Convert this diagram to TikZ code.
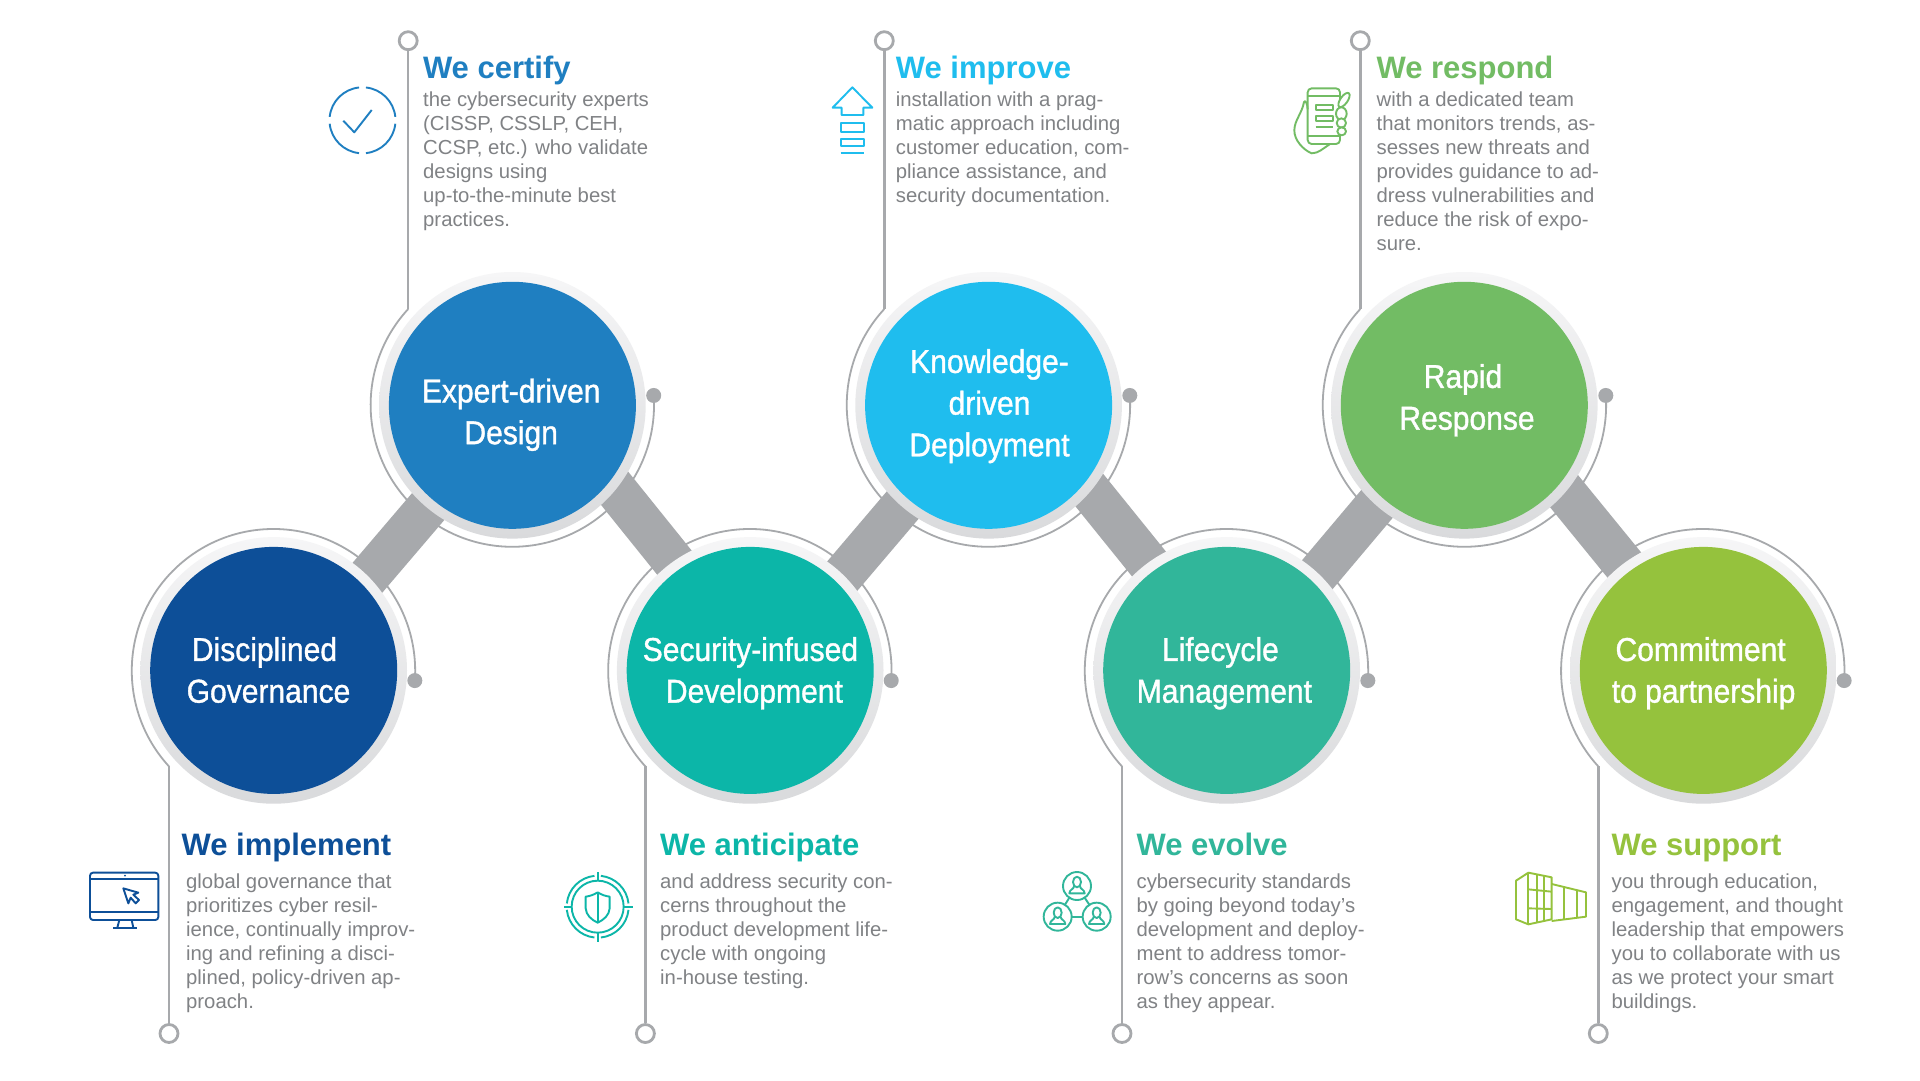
\documentclass[tikz,border=0pt]{standalone}
\usepackage{fontspec}
\setmainfont{Liberation Sans}
\newfontfamily\condfont[FakeStretch=0.91,FakeBold=1.1]{Liberation Sans}
\definecolor{cA}{HTML}{0D4F98}
\definecolor{cB}{HTML}{1F7FC1}
\definecolor{cC}{HTML}{0CB6A8}
\definecolor{cD}{HTML}{1FBDEE}
\definecolor{cE}{HTML}{31B69A}
\definecolor{cF}{HTML}{72BC64}
\definecolor{cG}{HTML}{95C23D}
\definecolor{railgray}{HTML}{A7A9AC}
\definecolor{bodygray}{HTML}{808285}
\definecolor{ringtop}{HTML}{F6F6F7}
\definecolor{ringbot}{HTML}{D9DADC}
\tikzset{
  x=1pt,y=1pt,
  railline/.style={draw=railgray,line width=2.5pt},
  arcline/.style={draw=railgray,line width=1.8pt},
  barline/.style={draw=railgray,line width=42pt},
  hollowend/.style={circle,draw=railgray,line width=2.8pt,fill=white,minimum size=18pt,inner sep=0pt},
  dotend/.style={circle,fill=railgray,minimum size=15pt,inner sep=0pt},
  ringnode/.style={circle,top color=ringtop,bottom color=ringbot,minimum size=266.6pt,inner sep=0pt},
  discnode/.style={circle,fill=#1,minimum size=247pt,inner sep=0pt},
  disclabel/.style={anchor=north,inner sep=0pt,align=center,text=white,font=\condfont\fontsize{33}{41.7}\selectfont},
  headnode/.style={anchor=base west,inner sep=0pt,text=#1,font=\fontsize{31}{36}\selectfont\bfseries},
  bodynode/.style={anchor=north west,inner sep=0pt,align=left,text=bodygray,font=\fontsize{20.3}{24.1}\selectfont},
  iconline/.style={draw=#1,line width=1.9pt,fill=none,line join=round},
}
\newcommand{\fs}{\rule{0pt}{16pt}}
\newcommand{\ds}{\rule{0pt}{26pt}}
\newcommand{\personmark}[3]{%
  \draw[iconline=#3] (#1,#2) circle[radius=42];
  \draw[iconline=#3] (#1,#2-12) ellipse[x radius=12,y radius=16];
  \draw[iconline=#3] (#1-9,#2+1) .. controls (#1-10,#2+10) and (#1-22,#2+10) .. (#1-23,#2+22) -- (#1+23,#2+22) .. controls (#1+22,#2+10) and (#1+10,#2+10) .. (#1+9,#2+1);
}
\begin{document}
\begin{tikzpicture}[yscale=-1]
\useasboundingbox (0,0) rectangle (1920,1080);
\fill[white] (0,0) rectangle (1920,1080);
% centres
\coordinate (C1) at (273.7,670.4);
\coordinate (C2) at (512.4,405.3);
\coordinate (C3) at (750.2,670.4);
\coordinate (C4) at (988.6,405.3);
\coordinate (C5) at (1226.7,670.4);
\coordinate (C6) at (1464.3,405.3);
\coordinate (C7) at (1703.3,670.4);
% end markers
\node[hollowend] (e1) at (169,1033.5) {};
\node[hollowend] (e2) at (408.2,40.7) {};
\node[hollowend] (e3) at (645.4,1033.5) {};
\node[hollowend] (e4) at (884.3,40.7) {};
\node[hollowend] (e5) at (1122,1033.5) {};
\node[hollowend] (e6) at (1360.3,40.7) {};
\node[hollowend] (e7) at (1598.3,1033.5) {};
\coordinate (j1) at ([shift={(-104.7,96)}]C1);
\coordinate (j2) at ([shift={(-104.2,-96.3)}]C2);
\coordinate (j3) at ([shift={(-104.8,96)}]C3);
\coordinate (j4) at ([shift={(-104.3,-96.3)}]C4);
\coordinate (j5) at ([shift={(-104.7,96)}]C5);
\coordinate (j6) at ([shift={(-104,-96.3)}]C6);
\coordinate (j7) at ([shift={(-105,96)}]C7);
% rails
\draw[railline] (e1) -- (j1);
\draw[railline] (e2) -- (j2);
\draw[railline] (e3) -- (j3);
\draw[railline] (e4) -- (j4);
\draw[railline] (e5) -- (j5);
\draw[railline] (e6) -- (j6);
\draw[railline] (e7) -- (j7);
\draw[arcline] (j1) arc[start angle=137.5,end angle=364,radius=141.7] node[dotend] (d1) {};
\draw[arcline] (j2) arc[start angle=222.7,end angle=-3.9,radius=141.7] node[dotend] (d2) {};
\draw[arcline] (j3) arc[start angle=137.5,end angle=364,radius=141.7] node[dotend] (d3) {};
\draw[arcline] (j4) arc[start angle=222.7,end angle=-3.9,radius=141.7] node[dotend] (d4) {};
\draw[arcline] (j5) arc[start angle=137.5,end angle=364,radius=141.7] node[dotend] (d5) {};
\draw[arcline] (j6) arc[start angle=222.7,end angle=-3.9,radius=141.7] node[dotend] (d6) {};
\draw[arcline] (j7) arc[start angle=137.5,end angle=364,radius=141.7] node[dotend] (d7) {};
% bars
\draw[barline] ([shift={(78.4,-74.7)}]C1) -- ([shift={(-69.5,84)}]C2);
\draw[barline] ([shift={(88.3,65.7)}]C2) -- ([shift={(-61.7,-90.3)}]C3);
\draw[barline] ([shift={(75.4,-74.7)}]C3) -- ([shift={(-72.5,84)}]C4);
\draw[barline] ([shift={(85.3,65.7)}]C4) -- ([shift={(-64.7,-90.3)}]C5);
\draw[barline] ([shift={(72.9,-74.7)}]C5) -- ([shift={(-75,84)}]C6);
\draw[barline] ([shift={(83.3,65.7)}]C6) -- ([shift={(-66.7,-90.3)}]C7);
% discs
\node[ringnode] (r1) at (C1) {}; \node[discnode=cA] (n1) at (C1) {};
\node[ringnode] (r2) at (C2) {}; \node[discnode=cB] (n2) at (C2) {};
\node[ringnode] (r3) at (C3) {}; \node[discnode=cC] (n3) at (C3) {};
\node[ringnode] (r4) at (C4) {}; \node[discnode=cD] (n4) at (C4) {};
\node[ringnode] (r5) at (C5) {}; \node[discnode=cE] (n5) at (C5) {};
\node[ringnode] (r6) at (C6) {}; \node[discnode=cF] (n6) at (C6) {};
\node[ringnode] (r7) at (C7) {}; \node[discnode=cG] (n7) at (C7) {};
% disc labels
\node[disclabel] (l1) at (268.5,634.7) {\ds\hspace*{-8pt}Disciplined\\Governance};
\node[disclabel] (l2) at (511.2,376.2) {\ds Expert-driven\\Design};
\node[disclabel] (l3) at (754.4,634.7) {\ds\hspace*{-8pt}Security-infused\\Development};
\node[disclabel] (l4) at (989.5,346.7) {\ds Knowledge-\\driven\\Deployment};
\node[disclabel] (l5) at (1224.4,634.7) {\ds\hspace*{-8pt}Lifecycle\\Management};
\node[disclabel] (l6) at (1467,361.7) {\ds\hspace*{-8pt}Rapid\\Response};
\node[disclabel] (l7) at (1703.6,634.7) {\ds\hspace*{-6pt}Commitment\\to partnership};
% headings
\node[headnode=cA] (h1) at (181.5,855.5) {We implement};
\node[headnode=cB] (h2) at (422.8,78) {We certify};
\node[headnode=cC] (h3) at (660,855.5) {We anticipate};
\node[headnode=cD] (h4) at (895.7,78) {We improve};
\node[headnode=cE] (h5) at (1136.4,855.5) {We evolve};
\node[headnode=cF] (h6) at (1376.4,78) {We respond};
\node[headnode=cG] (h7) at (1611.4,855.5) {We support};
% bodies
\node[bodynode] (b1) at (186,872) {\fs global governance that\\prioritizes cyber resil-\\ience, continually improv-\\ing and refining a disci-\\plined, policy-driven ap-\\proach.};
\node[bodynode] (b2) at (423,90) {\fs the cybersecurity experts\\(CISSP, CSSLP, CEH,\\CCSP, etc.) who validate\\designs using\\up-to-the-minute best\\practices.};
\node[bodynode] (b3) at (660,872) {\fs and address security con-\\cerns throughout the\\product development life-\\cycle with ongoing\\in-house testing.};
\node[bodynode] (b4) at (895.7,90) {\fs installation with a prag-\\matic approach including\\customer education, com-\\pliance assistance, and\\security documentation.};
\node[bodynode] (b5) at (1136.4,872) {\fs cybersecurity standards\\by going beyond today’s\\development and deploy-\\ment to address tomor-\\row’s concerns as soon\\as they appear.};
\node[bodynode] (b6) at (1376.4,90) {\fs with a dedicated team\\that monitors trends, as-\\sesses new threats and\\provides guidance to ad-\\dress vulnerabilities and\\reduce the risk of expo-\\sure.};
\node[bodynode] (b7) at (1611.4,872) {\fs you through education,\\engagement, and thought\\leadership that empowers\\you to collaborate with us\\as we protect your smart\\buildings.};
% icon: check
\begin{scope}[shift={(362.5,120.3)}]
\foreach \a in {0,90,180,270}
  \draw[iconline=cB] (\a+6:33) arc[start angle=\a+6,end angle=\a+84,radius=33];
\draw[iconline=cB] (-19.2,0.4) -- (-8.2,12) -- (9.2,-10.3);
\end{scope}
% icon: arrow
\begin{scope}[shift={(820,70)},scale=1/3]
\draw[iconline=cD] (65,113) -- (38,113) -- (97,52) -- (157,113) -- (130,113) -- (130,135) -- (65,135) -- cycle;
\draw[iconline=cD] (63,160) rectangle (132,185);
\draw[iconline=cD] (63,206) rectangle (132,228);
\draw[iconline=cD] (62,248) -- (133,248);
\end{scope}
% icon: phone
\begin{scope}[shift={(1280,70)},scale=1/3]
\draw[iconline=cF,rounded corners=4pt] (83,55) rectangle (180,222);
\draw[iconline=cF] (83,78) -- (180,78);
\draw[iconline=cF] (83,198) -- (180,198);
\draw[iconline=cF] (107,105) rectangle (158,120);
\draw[iconline=cF] (107,137) rectangle (158,152);
\draw[iconline=cF] (107,172) -- (158,172);
\draw[iconline=cF,fill=white,rotate around={-55:(192,90)}] (192,90) ellipse[x radius=25,y radius=11];
\draw[iconline=cF,fill=white] (184,131) ellipse[x radius=16,y radius=19];
\draw[iconline=cF,fill=white] (184,159) ellipse[x radius=14,y radius=14];
\draw[iconline=cF,fill=white] (185,184) ellipse[x radius=13,y radius=12];
\draw[iconline=cF] (83,118) .. controls (82,100) and (76,88) .. (72,96) .. controls (66,130) and (44,150) .. (43,180) .. controls (42,210) and (70,240) .. (95,250) .. controls (115,250) and (130,235) .. (150,222);
\end{scope}
% icon: monitor
\begin{scope}[shift={(80,860)},scale=1/3]
\draw[iconline=cA,rounded corners=3pt] (30,38) rectangle (235,180);
\draw[iconline=cA] (30,57) -- (235,57);
\draw[iconline=cA] (30,155) -- (235,155);
\fill[cA] (135,47) circle[radius=3];
\draw[iconline=cA] (118,180) -- (112,203);
\draw[iconline=cA] (155,180) -- (160,203);
\draw[iconline=cA] (100,203) -- (172,203);
\draw[iconline=cA] (130,85) -- (145,130) -- (152,113) -- (167,130) -- (177,120) -- (160,104) -- (175,98) -- cycle;
\end{scope}
% icon: shield
\begin{scope}[shift={(555,860)},scale=1/3]
\foreach \a in {0,90,180,270}
  \draw[iconline=cC] (128,140) ++(\a+6:93) arc[start angle=\a+6,end angle=\a+84,radius=93];
\draw[iconline=cC] (128,140) circle[radius=78];
\draw[iconline=cC] (128,37) -- (128,62);
\draw[iconline=cC] (128,218) -- (128,245);
\draw[iconline=cC] (27,140) -- (50,140);
\draw[iconline=cC] (207,140) -- (235,140);
\draw[iconline=cC] (128,97) .. controls (115,105) and (105,108) .. (92,110) -- (92,145) .. controls (93,165) and (110,180) .. (128,188) .. controls (146,180) and (163,165) .. (164,145) -- (164,110) .. controls (151,108) and (141,105) .. (128,97) -- cycle;
\draw[iconline=cC] (128,97) -- (128,188);
\end{scope}
% icon: people
\begin{scope}[shift={(1030,860)},scale=1/3]
\personmark{141}{78}{cE}
\personmark{83}{170}{cE}
\personmark{200}{170}{cE}
\draw[iconline=cE] (118,113) -- (105,134);
\draw[iconline=cE] (164,113) -- (178,134);
\draw[iconline=cE] (125,170) -- (158,170);
\end{scope}
% icon: building
\begin{scope}[shift={(1500,860)},scale=1/3]
\draw[iconline=cG] (48,62) -- (85,38) -- (155,52) -- (155,178) -- (85,193) -- (48,178) -- cycle;
\draw[iconline=cG] (85,38) -- (85,193);
\draw[iconline=cG] (110,43) -- (110,188);
\draw[iconline=cG] (133,48) -- (133,183);
\draw[iconline=cG] (85,88) -- (155,95);
\draw[iconline=cG] (85,145) -- (155,147);
\draw[iconline=cG] (155,72) -- (258,97) -- (258,170) -- (155,183);
\draw[iconline=cG] (193,82) -- (193,178);
\draw[iconline=cG] (230,90) -- (230,174);
\end{scope}
\end{tikzpicture}
\end{document}
